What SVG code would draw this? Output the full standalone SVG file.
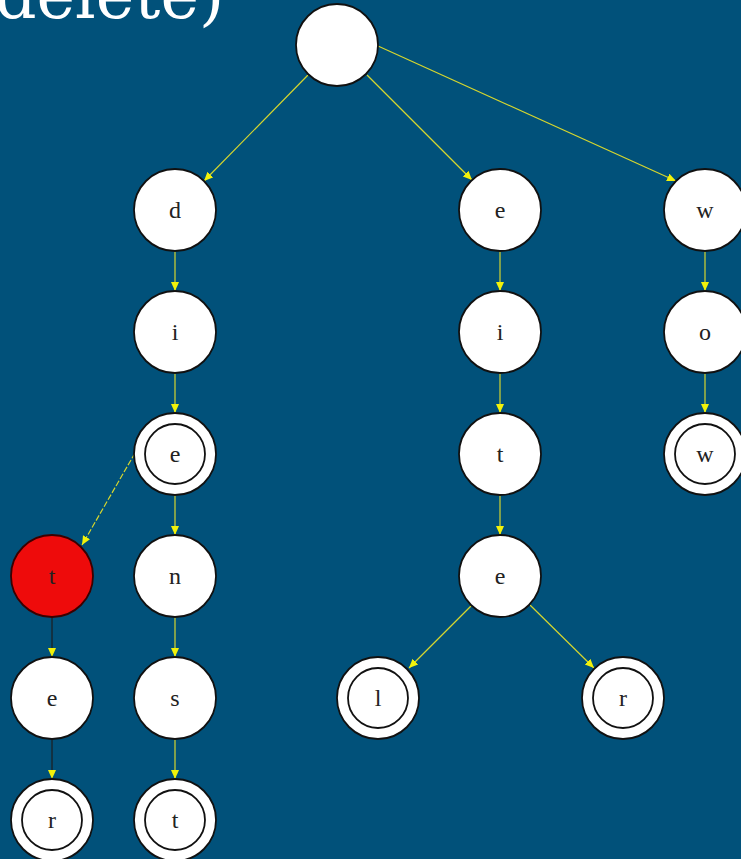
<svg xmlns="http://www.w3.org/2000/svg" width="741" height="859" viewBox="0 0 741 859">
<defs>
<marker id="ah" markerUnits="userSpaceOnUse" markerWidth="10" markerHeight="10" refX="9" refY="5" orient="auto">
<path d="M0,1 L9,5 L0,9 z" fill="#f2f20a"/>
</marker>
<style>
.n{fill:#ffffff;stroke:#111;stroke-width:1.8}
.r{fill:#ee0b0b;stroke:#3a0000;stroke-width:1.8}
.in{fill:none;stroke:#111;stroke-width:1.8}
.t{font-family:"Liberation Serif",serif;font-size:24px;fill:#222;text-anchor:middle}
.c{stroke:#d6d62e;stroke-width:1.2;fill:none;marker-end:url(#ah)}
.cd{stroke:#1e1e1e;stroke-width:1.2;fill:none;marker-end:url(#ah)}
</style>
</defs>
<rect width="741" height="859" fill="#01517a"/>
<text x="-5" y="18" font-family="'DejaVu Serif',serif" font-size="65" fill="#ffffff">delete)</text>
<g id="connectors">
<line class="c" x1="308" y1="75" x2="204" y2="181"/>
<line class="c" x1="367" y1="75" x2="472" y2="180"/>
<line class="c" x1="378" y1="46" x2="676" y2="181"/>
<line class="c" x1="175" y1="251" x2="175" y2="291"/>
<line class="c" x1="175" y1="373" x2="175" y2="413"/>
<line class="c" x1="175" y1="495" x2="175" y2="535"/>
<line class="c" x1="175" y1="617" x2="175" y2="657"/>
<line class="c" x1="175" y1="739" x2="175" y2="779"/>
<line class="c" x1="135" y1="453" x2="82" y2="545" stroke-dasharray="6,2"/>
<line class="cd" x1="52" y1="617" x2="52" y2="657"/>
<line class="cd" x1="52" y1="739" x2="52" y2="779"/>
<line class="c" x1="500" y1="251" x2="500" y2="291"/>
<line class="c" x1="500" y1="373" x2="500" y2="413"/>
<line class="c" x1="500" y1="495" x2="500" y2="535"/>
<line class="c" x1="472" y1="605" x2="409" y2="668"/>
<line class="c" x1="530" y1="605" x2="594" y2="668"/>
<line class="c" x1="705" y1="251" x2="705" y2="291"/>
<line class="c" x1="705" y1="373" x2="705" y2="413"/>
</g>
<g id="root"><circle class="n" cx="337" cy="45" r="41"/></g>
<g id="d"><circle class="n" cx="175" cy="210" r="41"/><text class="t" x="175" y="218">d</text></g>
<g id="di"><circle class="n" cx="175" cy="332" r="41"/><text class="t" x="175" y="340">i</text></g>
<g id="die"><circle class="n" cx="175" cy="454" r="41"/><circle class="in" cx="175" cy="454" r="30"/><text class="t" x="175" y="462">e</text></g>
<g id="dien"><circle class="n" cx="175" cy="576" r="41"/><text class="t" x="175" y="584">n</text></g>
<g id="diens"><circle class="n" cx="175" cy="698" r="41"/><text class="t" x="175" y="706">s</text></g>
<g id="dienst"><circle class="n" cx="175" cy="820" r="41"/><circle class="in" cx="175" cy="820" r="30"/><text class="t" x="175" y="828">t</text></g>
<g id="diet"><circle class="r" cx="52" cy="576" r="41"/><text class="t" x="52" y="584">t</text></g>
<g id="diete"><circle class="n" cx="52" cy="698" r="41"/><text class="t" x="52" y="706">e</text></g>
<g id="dieter"><circle class="n" cx="52" cy="820" r="41"/><circle class="in" cx="52" cy="820" r="30"/><text class="t" x="52" y="828">r</text></g>
<g id="e"><circle class="n" cx="500" cy="210" r="41"/><text class="t" x="500" y="218">e</text></g>
<g id="ei"><circle class="n" cx="500" cy="332" r="41"/><text class="t" x="500" y="340">i</text></g>
<g id="eit"><circle class="n" cx="500" cy="454" r="41"/><text class="t" x="500" y="462">t</text></g>
<g id="eite"><circle class="n" cx="500" cy="576" r="41"/><text class="t" x="500" y="584">e</text></g>
<g id="eitel"><circle class="n" cx="378" cy="698" r="41"/><circle class="in" cx="378" cy="698" r="30"/><text class="t" x="378" y="706">l</text></g>
<g id="eiter"><circle class="n" cx="623" cy="698" r="41"/><circle class="in" cx="623" cy="698" r="30"/><text class="t" x="623" y="706">r</text></g>
<g id="w"><circle class="n" cx="705" cy="210" r="41"/><text class="t" x="705" y="218">w</text></g>
<g id="wo"><circle class="n" cx="705" cy="332" r="41"/><text class="t" x="705" y="340">o</text></g>
<g id="wow"><circle class="n" cx="705" cy="454" r="41"/><circle class="in" cx="705" cy="454" r="30"/><text class="t" x="705" y="462">w</text></g>
</svg>
